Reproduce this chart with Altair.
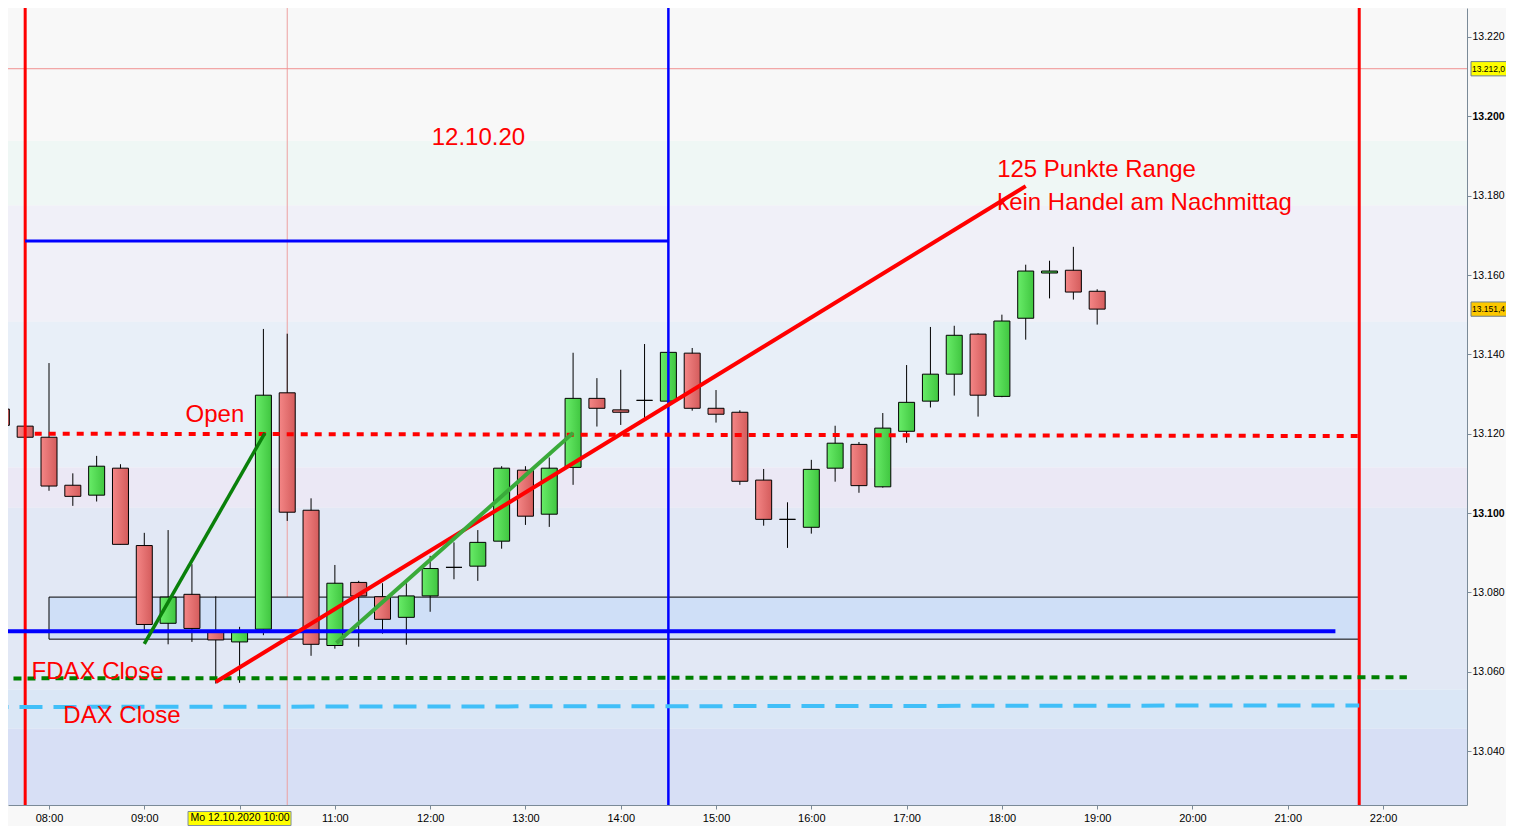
import numpy as np
import pandas as pd
import altair as alt

# FDAX 15-minute candles, Mo 12.10.2020
times = ["07:30", "07:45", "08:00", "08:15", "08:30", "08:45", "09:00", "09:15",
         "09:30", "09:45", "10:00", "10:15", "10:30", "10:45", "11:00", "11:15",
         "11:30", "11:45", "12:00", "12:15", "12:30", "12:45", "13:00", "13:15",
         "13:30", "13:45", "14:00", "14:15", "14:30", "14:45", "15:00", "15:15",
         "15:30", "15:45", "16:00", "16:15", "16:30", "16:45", "17:00", "17:15",
         "17:30", "17:45", "18:00", "18:15", "18:30", "18:45", "19:00"]
opens = [13126.2, 13121.9, 13119.1, 13107.0, 13104.5, 13111.3, 13091.8, 13072.2,
         13079.5, 13070.0, 13067.5, 13070.7, 13130.3, 13100.7, 13066.6, 13082.5,
         13078.9, 13073.7, 13079.1, 13086.3, 13086.6, 13092.9, 13110.8, 13099.7,
         13111.5, 13128.9, 13126.0, 13128.4, 13128.2, 13140.3, 13126.4, 13125.4,
         13108.3, 13098.4, 13096.4, 13111.3, 13117.3, 13106.6, 13120.6, 13128.2,
         13135.0, 13145.1, 13129.4, 13149.1, 13160.5, 13161.2, 13155.9]
highs = [13130.0, 13122.2, 13137.8, 13110.0, 13114.4, 13112.3, 13095.0, 13095.7,
         13087.1, 13079.0, 13071.3, 13146.4, 13145.2, 13103.7, 13086.9, 13082.9,
         13082.3, 13082.3, 13089.2, 13092.6, 13095.7, 13111.8, 13111.8, 13114.0,
         13140.4, 13134.0, 13136.1, 13142.6, 13141.0, 13141.6, 13131.0, 13125.9,
         13111.1, 13102.7, 13113.4, 13122.0, 13117.9, 13125.2, 13137.3, 13146.9,
         13147.2, 13145.3, 13150.0, 13162.6, 13163.6, 13167.1, 13156.4]
lows = [13120.3, 13118.8, 13105.6, 13101.8, 13102.9, 13092.1, 13070.5, 13066.9,
        13067.5, 13057.0, 13057.2, 13069.2, 13098.0, 13064.0, 13065.8, 13066.3,
        13069.6, 13066.8, 13075.1, 13083.3, 13082.9, 13091.0, 13097.0, 13096.5,
        13107.1, 13121.8, 13122.2, 13123.9, 13128.0, 13125.8, 13122.8, 13107.1,
        13096.8, 13091.2, 13094.8, 13107.9, 13105.1, 13106.4, 13117.7, 13126.6,
        13129.6, 13124.3, 13129.2, 13143.7, 13154.1, 13153.8, 13147.5]
closes = [13122.1, 13119.1, 13106.8, 13104.2, 13111.8, 13092.1, 13071.9, 13078.8,
          13070.9, 13068.0, 13070.0, 13129.7, 13100.2, 13066.9, 13082.3, 13079.1,
          13073.2, 13079.1, 13086.0, 13086.3, 13092.6, 13111.3, 13099.2, 13111.3,
          13128.9, 13126.4, 13125.4, 13128.4, 13140.5, 13126.4, 13124.9, 13108.0,
          13098.4, 13098.4, 13111.0, 13117.6, 13106.9, 13121.4, 13127.9, 13135.0,
          13144.8, 13129.7, 13148.4, 13161.0, 13161.0, 13155.7, 13151.4]

# background price bands
band_top = [13240.0, 13193.8, 13177.5, 13148.2, 13111.5, 13101.3, 13055.5, 13045.7]
band_bottom = [13193.8, 13177.5, 13148.2, 13111.5, 13101.3, 13055.5, 13045.7, 13000.0]
band_colors = ["#f8f8f8", "#eff7f5", "#f0f0f8", "#e8eff8", "#ebe8f5", "#e2e8f5",
               "#dae7f6", "#d7dff5"]

# drawn levels / trend lines: start, end time and price
line_names = ["range_high", "zone_line", "open", "fdax_close", "dax_close",
              "trend_red", "trend_dkgreen", "trend_green"]
line_t0 = ["07:45", "07:20", "07:51", "07:20", "07:20", "09:45", "09:00", "11:01"]
line_t1 = ["14:30", "21:30", "21:45", "22:15", "21:45", "18:15", "10:16", "13:30"]
line_p0 = [13168.6, 13070.2, 13120.0, 13058.3, 13051.1, 13057.4, 13067.0, 13067.2]
line_p1 = [13168.6, 13070.2, 13119.4, 13058.6, 13051.5, 13182.4, 13120.2, 13120.2]

zone_time = ["08:00", "21:45"]
zone_price = [13078.8, 13068.2]

vlines_time = ["07:45", "14:30", "21:45"]
vlines_color = ["#ff0000", "#0000ff", "#ff0000"]
cross_time = "10:30"
cross_price = 13212.0

ann_text = ["12.10.20", "Open", "125 Punkte Range", "kein Handel am Nachmittag",
            "FDAX Close", "DAX Close"]
ann_time = ["12:01", "09:26", "17:57", "17:57", "07:49", "08:09"]
ann_price = [13192.8, 13122.9, 13184.6, 13176.4, 13058.1, 13047.1]

tag_labels = ["13.212,0", "13.151,4"]
tag_prices = [13212.0, 13151.4]
tag_fills = ["#ffff00", "#fcc800"]


def hours(s):
    h, m = s.split(":")
    return int(h) + int(m) / 60


W, H = 1459, 797
X_DOM = [7.5697, 22.881]
Y_DOM = [13026.39, 13227.31]
AX = "#7a8a98"
FONT = "Liberation Sans"

x_axis = alt.Axis(
    values=list(range(8, 23)),
    labelExpr="datum.value == 10 ? 'Mo 12.10.2020 10:00' : "
              "(datum.value < 10 ? '0' : '') + datum.value + ':00'",
    tickSize=4, tickColor=AX, domainColor=AX, labelColor="black",
    labelFont=FONT, labelFontSize={"condition": {"test": "datum.value == 10", "value": 10.5},
                                   "value": 11},
    labelPadding=3, labelOverlap=False, grid=False, title=None, zindex=1,
)
y_axis = alt.Axis(
    orient="right",
    values=list(range(13040, 13221, 20)),
    labelExpr="replace(format(datum.value, ',d'), ',', '.')",
    labelFontWeight={"condition": {"test": "datum.value % 100 === 0", "value": "bold"},
                     "value": "normal"},
    tickSize=4, tickColor=AX, domainColor=AX, labelColor="black",
    labelFont=FONT, labelFontSize=10.5, labelPadding=1, grid=False, title=None, zindex=1,
)


def X(field):
    return alt.X(f"{field}:Q",
                 scale=alt.Scale(domain=X_DOM, nice=False, zero=False, padding=0),
                 axis=x_axis)


def Y(field):
    return alt.Y(f"{field}:Q",
                 scale=alt.Scale(domain=Y_DOM, nice=False, zero=False, padding=0),
                 axis=y_axis)


# candles
df = pd.DataFrame({"time": times, "open": opens, "high": highs, "low": lows, "close": closes})
df["t"] = df["time"].map(hours)
df["body_lo"] = df[["open", "close"]].min(axis=1)
df["body_hi"] = df[["open", "close"]].max(axis=1)
up = df[df["close"] >= df["open"]]
down = df[df["close"] < df["open"]]

bands = pd.DataFrame({"top": band_top, "bottom": band_bottom, "color": band_colors})
lines = pd.DataFrame({"name": line_names, "t0": [hours(t) for t in line_t0],
                      "t1": [hours(t) for t in line_t1], "p0": line_p0, "p1": line_p1})
zone = pd.DataFrame({"t0": [hours(zone_time[0])], "t1": [hours(zone_time[1])],
                     "top": [zone_price[0]], "bottom": [zone_price[1]]})
vlines = pd.DataFrame({"t": [hours(t) for t in vlines_time], "color": vlines_color})
ann = pd.DataFrame({"text": ann_text, "t": [hours(t) for t in ann_time], "price": ann_price})
tags = pd.DataFrame({"label": tag_labels, "price": tag_prices, "fill": tag_fills})
tags["top"] = tags["price"] + 1.8
tags["bottom"] = tags["price"] - 1.8
datebox = pd.DataFrame({"t0": [9.459], "t1": [10.54]})

layers = []

# background bands
layers.append(alt.Chart(bands).mark_rect(clip=True).encode(
    x=alt.value(0), x2=alt.value(W), y=Y("top"), y2=alt.Y2("bottom"),
    color=alt.Color("color:N", scale=None)))

# crosshair
layers.append(alt.Chart(pd.DataFrame({"t": [hours(cross_time)]})).mark_rule(
    color="#eea0a0", strokeWidth=1, clip=True).encode(x=X("t")))
layers.append(alt.Chart(pd.DataFrame({"p": [cross_price]})).mark_rule(
    color="#f09090", strokeWidth=1, clip=True).encode(y=Y("p")))

# support zone
layers.append(alt.Chart(zone).mark_rect(fill="#cfdff7", stroke="black", strokeWidth=1,
                                        clip=True).encode(
    x=X("t0"), x2=alt.X2("t1"), y=Y("top"), y2=alt.Y2("bottom")))

# wicks and bodies
layers.append(alt.Chart(df).mark_rule(color="black", strokeWidth=1, clip=True).encode(
    x=X("t"), y=Y("low"), y2=alt.Y2("high")))
green = alt.LinearGradient(gradient="linear", x1=0, x2=1, y1=0, y2=0, stops=[
    alt.GradientStop(color="#68ec68", offset=0), alt.GradientStop(color="#40c640", offset=1)])
red = alt.LinearGradient(gradient="linear", x1=0, x2=1, y1=0, y2=0, stops=[
    alt.GradientStop(color="#f48686", offset=0), alt.GradientStop(color="#d45c5c", offset=1)])
layers.append(alt.Chart(up).mark_bar(size=16, fill=green, stroke="black", strokeWidth=1,
                                     clip=True).encode(
    x=X("t"), y=Y("body_lo"), y2=alt.Y2("body_hi")))
layers.append(alt.Chart(down).mark_bar(size=16, fill=red, stroke="black", strokeWidth=1,
                                       clip=True).encode(
    x=X("t"), y=Y("body_lo"), y2=alt.Y2("body_hi")))

# vertical session lines
for i, row in vlines.iterrows():
    layers.append(alt.Chart(vlines.iloc[[i]]).mark_rule(
        color=row["color"], strokeWidth=3 if row["color"] == "#ff0000" else 2.5,
        clip=True).encode(x=X("t")))

# levels and trend lines
styles = {
    "range_high": dict(color="#0000ff", strokeWidth=3),
    "zone_line": dict(color="#0000ff", strokeWidth=4),
    "open": dict(color="#ff0000", strokeWidth=4, strokeDash=[7, 7]),
    "fdax_close": dict(color="#008000", strokeWidth=4, strokeDash=[8, 6]),
    "dax_close": dict(color="#40bff8", strokeWidth=4, strokeDash=[23, 11]),
    "trend_red": dict(color="#ff0000", strokeWidth=4),
    "trend_dkgreen": dict(color="#0a800a", strokeWidth=3.5),
    "trend_green": dict(color="#3aaa3a", strokeWidth=4),
}
for name, st in styles.items():
    layers.append(alt.Chart(lines[lines["name"] == name]).mark_rule(clip=True, **st).encode(
        x=X("t0"), x2=alt.X2("t1"), y=Y("p0"), y2=alt.Y2("p1")))

# annotations
layers.append(alt.Chart(ann).mark_text(
    align="left", baseline="alphabetic", font=FONT, fontSize=24, color="#ff0000").encode(
    x=X("t"), y=Y("price"), text="text:N"))

# price tags on the right axis
layers.append(alt.Chart(tags).mark_rect(stroke="#6f7f8f", strokeWidth=1).encode(
    x=alt.value(W + 4), x2=alt.value(W + 60), y=Y("top"), y2=alt.Y2("bottom"),
    color=alt.Color("fill:N", scale=None)))
layers.append(alt.Chart(tags).mark_text(
    align="left", baseline="middle", font=FONT, fontSize=8.5, color="black").encode(
    x=alt.value(W + 5), y=Y("price"), text="label:N"))

# date box under the x axis
layers.append(alt.Chart(datebox).mark_rect(fill="#ffff00", stroke="#7f8f9f",
                                           strokeWidth=1).encode(
    x=X("t0"), x2=alt.X2("t1"), y=alt.value(H + 6.5), y2=alt.value(H + 20.5)))

chart = alt.layer(*layers).properties(
    width=W, height=H,
    padding={"left": 0, "top": 0, "right": 39, "bottom": 21},
    autosize=alt.AutoSizeParams(type="none"),
    background="#f8f8f8",
).configure_view(strokeWidth=0)

chart.save("out.html", embed_options={"renderer": "svg", "actions": False})
